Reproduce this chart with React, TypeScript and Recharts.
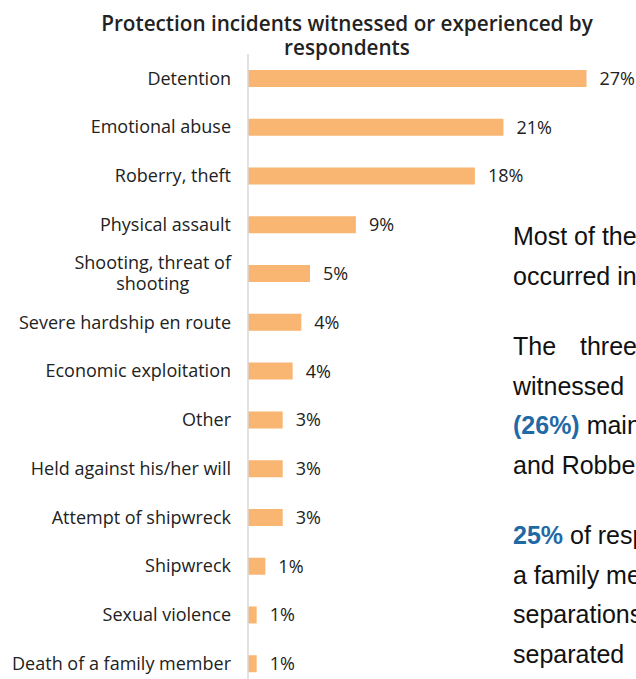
import React from "react";
import { BarChart, Bar, XAxis, YAxis, LabelList } from "recharts";

// categories top to bottom, as in the survey chart
const categories = [
  "Detention",
  "Emotional abuse",
  "Roberry, theft",
  "Physical assault",
  "Shooting, threat of\nshooting",
  "Severe hardship en route",
  "Economic exploitation",
  "Other",
  "Held against his/her will",
  "Attempt of shipwreck",
  "Shipwreck",
  "Sexual violence",
  "Death of a family member",
];

// share of respondents (%)
const shares = [27.3, 20.6, 18.3, 8.7, 5.0, 4.3, 3.6, 2.8, 2.8, 2.8, 1.4, 0.7, 0.7];

// side commentary, cut by the right edge of the slide
const notes = [
  { parts: [{ t: "Most of these" }] },
  { parts: [{ t: "occurred in" }] },
  null,
  { parts: [{ t: "The three" }], spacing: 17 },
  { parts: [{ t: "witnessed" }] },
  { parts: [{ t: "(26%)", blue: true }, { t: " mainly" }] },
  { parts: [{ t: "and Robbery" }] },
  null,
  { parts: [{ t: "25%", blue: true }, { t: " of respondents" }] },
  { parts: [{ t: "a family member" }] },
  { parts: [{ t: "separations" }] },
  { parts: [{ t: "separated" }] },
];

const data = categories.map((c, i) => ({ category: c, share: shares[i] }));

const FONT = "'Open Sans', sans-serif";
const TICK_SIZE = 18;
const BAR_COLOR = "#F9B572";

let ctx: CanvasRenderingContext2D | null = null;
function textWidth(text: string) {
  if (!ctx) ctx = document.createElement("canvas").getContext("2d");
  if (!ctx) return text.length * 9;
  ctx.font = `${TICK_SIZE}px 'Open Sans'`;
  return ctx.measureText(text).width;
}

function CategoryTick(props: any) {
  const { x, y, payload } = props;
  const lines = String(payload.value).split("\n");
  const style = { fontFamily: FONT, fontSize: TICK_SIZE, fill: "#222" };
  if (lines.length === 1) {
    return (
      <text x={x} y={y} dy="0.35em" textAnchor="end" style={style}>
        {lines[0]}
      </text>
    );
  }
  const cx = x - textWidth(lines[0]) / 2;
  return (
    <text textAnchor="middle" style={style}>
      {lines.map((l, i) => (
        <tspan key={i} x={cx} y={y + (i - (lines.length - 1) / 2) * 21} dy="0.35em">
          {l}
        </tspan>
      ))}
    </text>
  );
}

export default function App() {
  return (
    <div
      style={{
        position: "absolute",
        left: 0,
        top: 0,
        width: 636,
        height: 679,
        overflow: "hidden",
        background: "#fff",
      }}
    >
      <div
        style={{
          position: "absolute",
          left: 47,
          top: 11,
          width: 600,
          textAlign: "center",
          fontFamily: FONT,
          fontSize: 20.7,
          fontWeight: 600,
          lineHeight: "24px",
          color: "#222",
        }}
      >
        Protection incidents witnessed or experienced by
        <br />
        respondents
      </div>

      <div style={{ position: "absolute", left: 0, top: 0 }}>
        <BarChart
          width={636}
          height={700}
          data={data}
          layout="vertical"
          margin={{ top: 54, right: 16, left: 0, bottom: 12 }}
          barSize={17}
        >
          <XAxis type="number" domain={[0, 30]} hide />
          <YAxis
            type="category"
            dataKey="category"
            width={248}
            interval={0}
            tickLine={false}
            tickSize={0}
            tickMargin={17}
            axisLine={{ stroke: "#d9d9d9", strokeWidth: 1.5 }}
            tick={<CategoryTick />}
          />
          <Bar dataKey="share" fill={BAR_COLOR} isAnimationActive={false}>
            <LabelList
              dataKey="share"
              position="right"
              offset={13}
              formatter={(v: any) => `${Math.round(Number(v))}%`}
              style={{ fontFamily: FONT, fontSize: TICK_SIZE, fill: "#222" }}
            />
          </Bar>
        </BarChart>
      </div>

      <div
        style={{
          position: "absolute",
          left: 513,
          top: 217,
          fontFamily: "'Liberation Sans', Arial, sans-serif",
          fontSize: 25,
          lineHeight: "39.5px",
          color: "#111",
          whiteSpace: "pre",
        }}
      >
        {notes.map((line, i) =>
          line ? (
            <div key={i} style={{ wordSpacing: line.spacing ?? 0 }}>
              {line.parts.map((s: any, j: number) => (
                <span
                  key={j}
                  style={s.blue ? { color: "#1F6AA5", fontWeight: 700 } : undefined}
                >
                  {s.t}
                </span>
              ))}
            </div>
          ) : (
            <div key={i} style={{ height: 31 }} />
          )
        )}
      </div>
    </div>
  );
}
